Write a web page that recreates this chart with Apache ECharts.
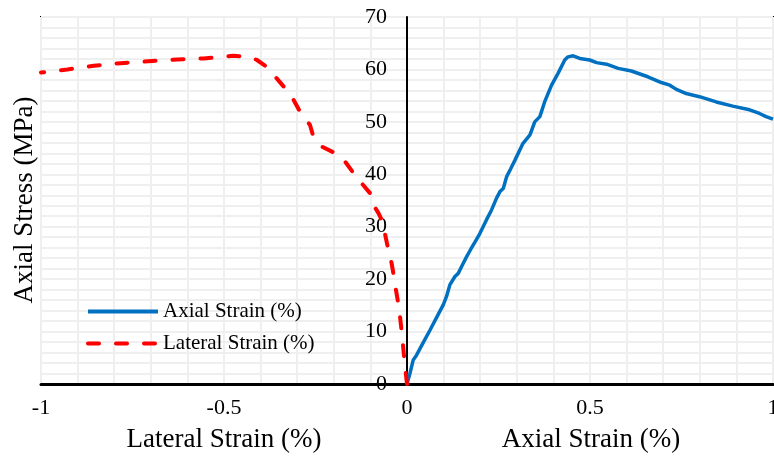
<!DOCTYPE html>
<html>
<head>
<meta charset="utf-8">
<script src="https://cdn.jsdelivr.net/npm/echarts@6/dist/echarts.min.js"></script>
<style>html,body{margin:0;padding:0;background:#fff}#c{width:774px;height:457px}</style>
</head>
<body>
<div id="c"></div>
<script>
var xTickLabels = ['-1', '-0.5', '0', '0.5', '1'];
var yTickLabels = ['0', '10', '20', '30', '40', '50', '60', '70'];
var seriesNames = ['Axial Strain (%)', 'Lateral Strain (%)'];

var axialX = [0, 0.008, 0.017, 0.026, 0.045, 0.063, 0.081, 0.099, 0.108, 0.117, 0.131, 0.14, 0.152, 0.163, 0.175, 0.186, 0.199, 0.217, 0.231, 0.245, 0.254, 0.263, 0.272, 0.283, 0.295, 0.317, 0.336, 0.349, 0.363, 0.376, 0.395, 0.413, 0.431, 0.44, 0.454, 0.472, 0.499, 0.518, 0.545, 0.577, 0.613, 0.658, 0.695, 0.718, 0.736, 0.763, 0.799, 0.845, 0.89, 0.936, 0.963, 0.981, 1.0];
var axialY = [0, 2, 4.6, 5.5, 8, 10.3, 12.7, 15.1, 16.7, 18.9, 20.5, 21.1, 22.8, 24.3, 25.8, 27.1, 28.7, 31.3, 33.2, 35.5, 36.7, 37.3, 39.5, 41, 42.7, 45.9, 47.5, 50.0, 51.0, 53.8, 57.0, 59.3, 61.8, 62.4, 62.6, 62.1, 61.8, 61.3, 61.0, 60.2, 59.7, 58.6, 57.5, 57.0, 56.2, 55.4, 54.8, 53.8, 53.0, 52.3, 51.6, 51.0, 50.5];

var lateralX = [0, -0.004, -0.008, -0.013, -0.019, -0.025, -0.031, -0.036, -0.042, -0.055, -0.062, -0.069, -0.078, -0.087, -0.097, -0.101, -0.124, -0.146, -0.169, -0.185, -0.196, -0.233, -0.256, -0.265, -0.292, -0.31, -0.333, -0.356, -0.383, -0.41, -0.43, -0.474, -0.52, -0.556, -0.628, -0.697, -0.783, -0.856, -0.928, -1.0];
var lateralY = [0, 2.5, 5.2, 9, 12.8, 15.8, 18.3, 20.6, 23, 26.9, 29.3, 31.3, 32.6, 33.6, 35.2, 36.4, 38.3, 40.2, 42.4, 43.6, 44.0, 45.3, 47.2, 49.4, 51.9, 54.2, 56.4, 58.3, 60.5, 61.8, 62.4, 62.6, 62.3, 62.1, 61.9, 61.6, 61.2, 60.7, 60.0, 59.4];

function zip(a, b) { return a.map(function (v, i) { return [v, b[i]]; }); }

var FONT = 'Liberation Serif';
var GRID_LEFT = 41, GRID_RIGHT = 1, W = 774;
var GRIDC = '#efefef';
var chart = echarts.init(document.getElementById('c'), null, { renderer: 'canvas' });
chart.setOption({
  animation: false,
  backgroundColor: '#fff',
  grid: { left: GRID_LEFT, right: GRID_RIGHT, top: 17, bottom: 73, show: true, borderColor: '#000', borderWidth: 2, backgroundColor: 'transparent', outerBoundsMode: 'none', containLabel: false },
  legend: {
    orient: 'vertical', left: 81, top: 296, itemWidth: 70, itemHeight: 16, itemGap: 11,
    itemStyle: { opacity: 0 },
    lineStyle: { width: 4 },
    textStyle: { fontFamily: FONT, fontSize: 21, color: '#000' },
    data: seriesNames
  },
  xAxis: {
    type: 'value', min: -1, max: 1, interval: 0.5,
    axisLine: { show: true, onZero: false, lineStyle: { color: '#000', width: 3 } },
    axisTick: { show: false },
    axisLabel: { fontFamily: FONT, fontSize: 22, color: '#000', margin: 13, hideOverlap: false,
      formatter: function (v) { var i = Math.round((v + 1) / 0.5); return xTickLabels[i]; } },
    splitLine: { show: true, lineStyle: { color: GRIDC, width: 2 } },
    minorTick: { show: false, splitNumber: 5 },
    minorSplitLine: { show: true, lineStyle: { color: GRIDC, width: 2 } }
  },
  yAxis: {
    type: 'value', min: 0, max: 70, interval: 10,
    offset: -(W - GRID_LEFT - GRID_RIGHT) / 2,
    axisLine: { show: true, onZero: false, lineStyle: { color: '#000', width: 2 } },
    axisTick: { show: false },
    axisLabel: { fontFamily: FONT, fontSize: 22, color: '#000', margin: 20,
      formatter: function (v) { return yTickLabels[Math.round(v / 10)]; } },
    splitLine: { show: true, lineStyle: { color: GRIDC, width: 2 } },
    minorTick: { show: false, splitNumber: 5 },
    minorSplitLine: { show: true, lineStyle: { color: GRIDC, width: 2 } }
  },
  graphic: [
    { type: 'text', style: { text: 'Axial Stress (MPa)', font: '27px "Liberation Serif"', fill: '#000', textAlign: 'center', textVerticalAlign: 'middle' }, x: 25, y: 200, rotation: Math.PI / 2 },
    { type: 'text', style: { text: 'Lateral Strain (%)', font: '27px "Liberation Serif"', fill: '#000', textAlign: 'center', textVerticalAlign: 'middle' }, x: 224, y: 440 },
    { type: 'text', style: { text: 'Axial Strain (%)', font: '27px "Liberation Serif"', fill: '#000', textAlign: 'center', textVerticalAlign: 'middle' }, x: 591, y: 440 }
  ],
  series: [
    { name: seriesNames[0], type: 'line', data: zip(axialX, axialY), symbol: 'none',
      lineStyle: { color: '#0070C0', width: 3.5 }, itemStyle: { color: '#0070C0' } },
    { name: seriesNames[1], type: 'line', data: zip(lateralX, lateralY), symbol: 'none',
      lineStyle: { color: '#FF0000', width: 4, type: [11, 17], cap: 'round' }, itemStyle: { color: '#FF0000' } }
  ]
});
</script>
</body>
</html>
